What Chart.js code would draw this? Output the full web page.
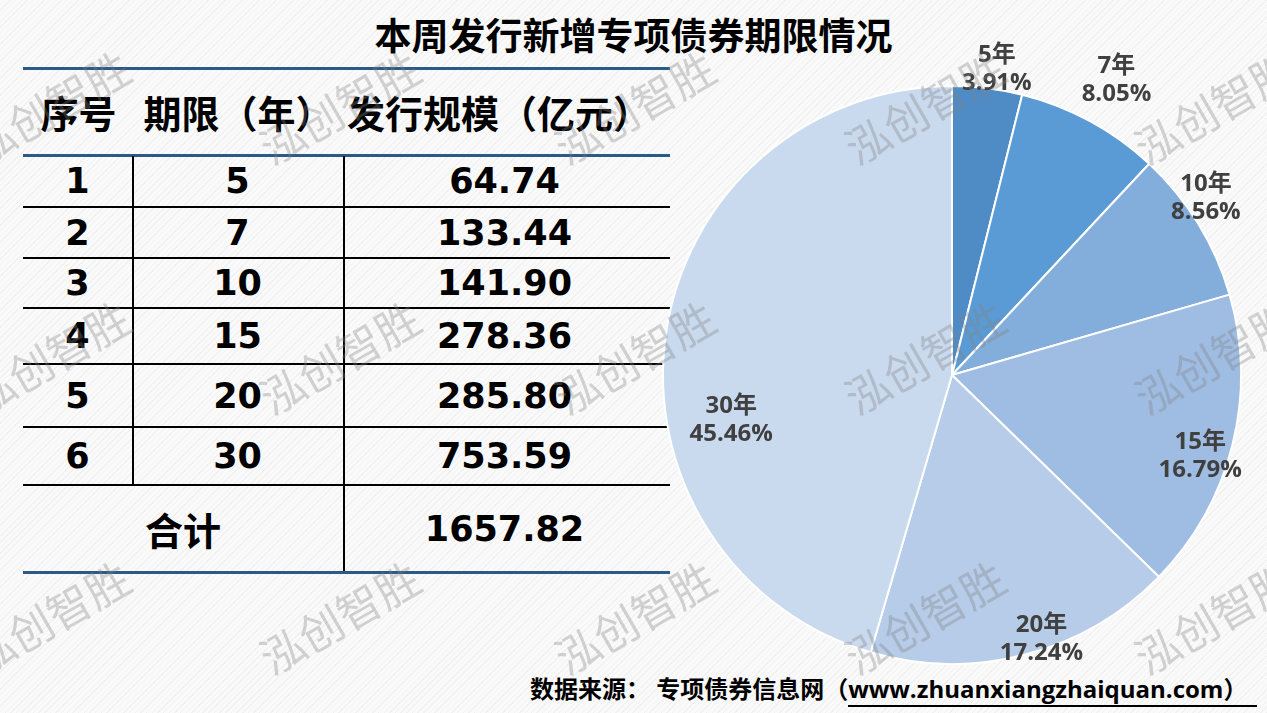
<!DOCTYPE html>
<html>
<head>
<meta charset="utf-8">
<script src="https://cdn.jsdelivr.net/npm/chart.js@4.4.0/dist/chart.umd.min.js"></script>
<style>
html,body{margin:0;padding:0;}
body{width:1267px;height:713px;overflow:hidden;position:relative;
  background:repeating-linear-gradient(135deg,#fafafa 0 3px,#f1f1f1 3px 4px);}
#title{position:absolute;left:0;top:10px;width:1267px;text-align:center;
  font:bold 37px "Noto Sans CJK SC",sans-serif;line-height:48px;color:#000;}
#tbl{position:absolute;left:0;top:0;width:1267px;height:713px;}
.ln{position:absolute;}
.cell{position:absolute;display:flex;align-items:center;justify-content:center;
  font:bold 35px "DejaVu Sans","Noto Sans CJK SC",sans-serif;color:#000;white-space:nowrap;}
.hd{font:bold 38px "Noto Sans CJK SC",sans-serif;}
#foot{position:absolute;left:530px;top:673px;white-space:nowrap;
  font:bold 24px "Open Sans","Noto Sans CJK SC",sans-serif;line-height:32px;color:#000;}
#foot .url{border-bottom:2px solid #000;padding-right:10px;}
#wrap{position:absolute;left:0;top:0;width:1267px;height:713px;pointer-events:none;}
</style>
</head>
<body>
<div id="title">本周发行新增专项债券期限情况</div>
<div id="tbl"></div>
<div id="foot">数据来源：&nbsp;专项债券信息网（<span class="url">www.zhuanxiangzhaiquan.com）</span></div>
<div id="wrap"><canvas id="pie"></canvas></div>
<script>
// ---- data ----
const seqNo      = ['1','2','3','4','5','6'];
const termYears  = ['5','7','10','15','20','30'];
const amounts    = [64.74, 133.44, 141.90, 278.36, 285.80, 753.59];
const pieLabels  = ['5年','7年','10年','15年','20年','30年'];
const headers    = ['序号','期限（年）','发行规模（亿元）'];
const totalLabel = '合计';
const totalText  = '1657.82';
const wmText     = '泓创智胜';

// ---- table (layout only) ----
const colX   = [23, 132, 343, 670];
const headTop = 68, headBot = 155;
const rowBot = [207, 258, 308, 364, 427, 485];
const totBot = 572;
const tbl = document.getElementById('tbl');

function line(x, y, w, h, c){
  const d = document.createElement('div');
  d.className = 'ln';
  d.style.cssText = `left:${x}px;top:${y}px;width:${w}px;height:${h}px;background:${c}`;
  tbl.appendChild(d);
}
function cell(txt, x1, x2, y1, y2, cls){
  const d = document.createElement('div');
  d.className = 'cell' + (cls ? ' ' + cls : '');
  d.style.cssText = `left:${x1}px;top:${y1}px;width:${x2-x1}px;height:${y2-y1}px`;
  d.textContent = txt;
  tbl.appendChild(d);
}

const W = colX[3] - colX[0];
line(colX[0], headTop-1, W, 3, '#2b5a86');
line(colX[0], headBot-1, W, 3, '#2b5a86');
line(colX[0], totBot-1, W, 3, '#2b5a86');
cell(headers[0], 23, 134, headTop, headBot, 'hd');
cell(headers[1], 134, 343, headTop, headBot, 'hd');
cell(headers[2], 350, 648, headTop, headBot, 'hd');

let rowTop = headBot;
seqNo.forEach((s, i) => {
  const bot = rowBot[i];
  cell(s, colX[0], colX[1], rowTop, bot);
  cell(termYears[i], colX[1], colX[2], rowTop, bot);
  cell(amounts[i].toFixed(2), colX[2], colX[3]-4, rowTop, bot);
  line(colX[0], bot-1, W, 1.5, '#000');
  rowTop = bot;
});
cell(totalLabel, colX[0], colX[2], rowTop, totBot, 'hd');
cell(totalText, colX[2], colX[3]-4, rowTop, totBot);
line(colX[1], headBot+1, 1.5, rowBot[5]-headBot-1, '#000');
line(colX[2], headBot+1, 1.5, totBot-headBot-2, '#000');

// ---- pie ----
const sliceColors = ['#4f8cc6','#5b9bd5','#83addb','#9fbde3','#b6cce8','#cadaee'];
// label placement: radius factor, angle nudge (deg)
const labelPlace = [[1.072,1.3],[1.172,0.5],[1.072,-3.4],[0.903,3.9],[0.962,-4.1],[0.779,-19.4]];

const sum = amounts.reduce((a,b)=>a+b, 0);

const pieLabelPlug = {
  id:'pieLabels',
  afterDatasetsDraw(chart){
    const ctx = chart.ctx;
    const meta = chart.getDatasetMeta(0);
    ctx.save();
    ctx.fillStyle = '#404040';
    ctx.font = 'bold 24px "Open Sans","Noto Sans CJK SC",sans-serif';
    ctx.textAlign = 'center';
    ctx.textBaseline = 'middle';
    meta.data.forEach((arc, i) => {
      const p = arc.getProps(['x','y','startAngle','endAngle','outerRadius'], true);
      const a = (p.startAngle + p.endAngle)/2 + labelPlace[i][1]*Math.PI/180;
      const r = p.outerRadius * labelPlace[i][0];
      const cx = p.x + Math.cos(a)*r, cy = p.y + Math.sin(a)*r;
      const pct = (amounts[i]/sum*100).toFixed(2) + '%';
      ctx.fillText(pieLabels[i], cx, cy-13);
      ctx.fillText(pct, cx, cy+15);
    });
    ctx.restore();
  }
};

const watermarkPlug = {
  id:'watermark',
  afterDraw(chart){
    const ctx = chart.ctx;
    ctx.save();
    ctx.font = '44px "Noto Sans CJK SC",sans-serif';
    ctx.fillStyle = 'rgba(128,128,128,0.34)';
    ctx.textAlign = 'center';
    ctx.textBaseline = 'middle';
    [50, 340, 635, 925, 1215].forEach(x => {
      [108, 358, 618].forEach(y => {
        ctx.save();
        ctx.translate(x, y);
        ctx.rotate(-30*Math.PI/180);
        ctx.fillText(wmText, 0, 0);
        ctx.restore();
      });
    });
    ctx.restore();
  }
};

new Chart(document.getElementById('pie'), {
  type:'pie',
  plugins:[pieLabelPlug, watermarkPlug],
  data:{
    labels:pieLabels,
    datasets:[{data:amounts, backgroundColor:sliceColors, borderColor:'#fff', borderWidth:2}]
  },
  options:{
    responsive:true, maintainAspectRatio:false, animation:false, events:[],
    layout:{padding:{left:662, top:85, right:25, bottom:48}},
    plugins:{legend:{display:false}, tooltip:{enabled:false}}
  }
});
</script>
</body>
</html>
